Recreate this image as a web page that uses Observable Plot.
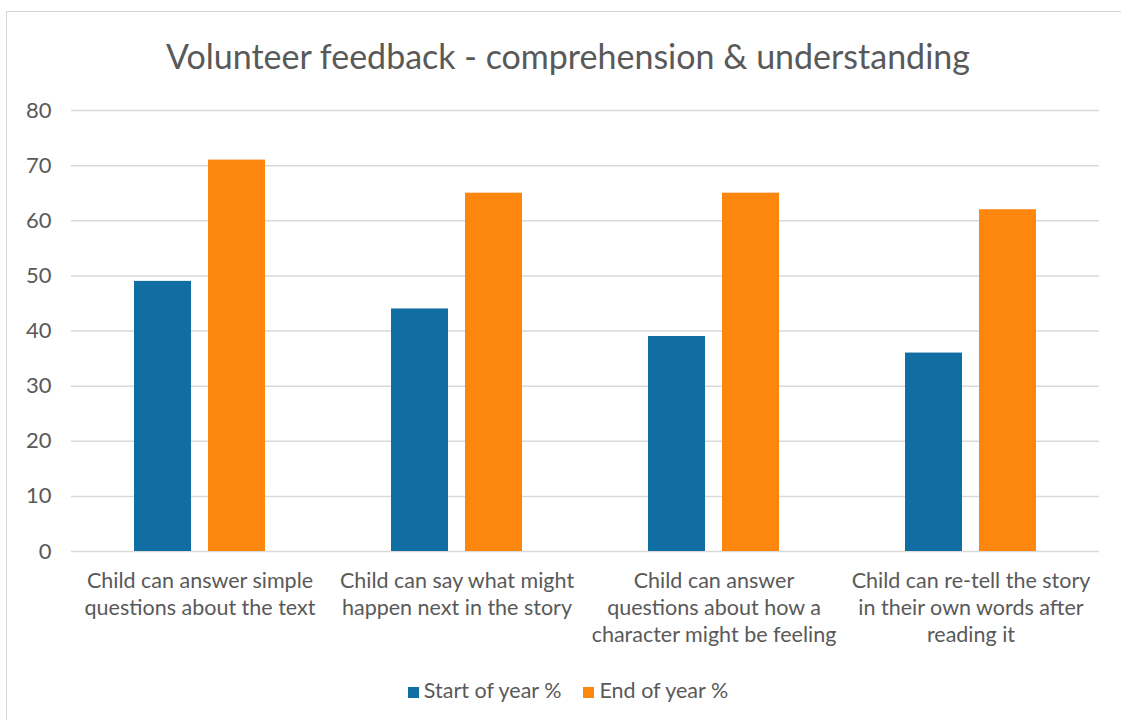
<!DOCTYPE html>
<html>
<head>
<meta charset="utf-8">
<script src="https://cdn.jsdelivr.net/npm/d3@7"></script>
<script src="https://cdn.jsdelivr.net/npm/@observablehq/plot@0.6"></script>
<style>
  html, body { margin: 0; padding: 0; background: #fff; overflow: hidden; width: 1121px; height: 720px; }
  #box { position: absolute; left: 6px; top: 11px; width: 1140px; height: 740px; border: 1px solid #d6d6d6; box-sizing: border-box; }
  #title { position: absolute; left: 0; width: 1136px; top: 35px; text-align: center; font-family: Lato, sans-serif; font-size: 34px; color: #595959; line-height: 42px; white-space: nowrap; }
  #chart { position: absolute; left: 8px; top: 90px; }
  #legend { position: absolute; left: 0; width: 1136px; top: 676px; text-align: center; font-family: Lato, sans-serif; font-size: 21.5px; color: #595959; white-space: nowrap; line-height: 28px; }
  .item { display: inline-block; margin: 0 11px; }
  .sw { display: inline-block; width: 11px; height: 11px; margin-right: 5px; vertical-align: 0px; }
</style>
</head>
<body>
<div id="box"></div>
<div id="title">Volunteer feedback - comprehension &amp; understanding</div>
<div id="chart"></div>
<div id="legend"></div>
<script>
const categories = [
  "Child can answer simple questions about the text",
  "Child can say what might happen next in the story",
  "Child can answer questions about how a character might be feeling",
  "Child can re-tell the story in their own words after reading it"
];
const categoryLabels = [
  "Child can answer simple\nquestions about the text",
  "Child can say what might\nhappen next in the story",
  "Child can answer\nquestions about how a\ncharacter might be feeling",
  "Child can re-tell the story\nin their own words after\nreading it"
];
const seriesNames = ["Start of year %", "End of year %"];
const startOfYear = [49, 44, 39, 36];
const endOfYear = [71, 65, 65, 62];
const yTicks = [0, 10, 20, 30, 40, 50, 60, 70, 80];
const colors = ["#116ea2", "#fd860f"];

const data = categories.flatMap((c, i) => [
  {cat: c, series: seriesNames[0], value: startOfYear[i]},
  {cat: c, series: seriesNames[1], value: endOfYear[i]}
]);
const labelOf = new Map(categories.map((c, i) => [c, categoryLabels[i]]));

const chart = Plot.plot({
  width: 1113,
  height: 561,
  marginLeft: 62,
  marginRight: 21,
  marginTop: 20,
  marginBottom: 100,
  style: {fontFamily: "Lato, sans-serif", color: "#595959", background: "transparent", overflow: "visible"},
  fx: {domain: categories, padding: 0, label: null},
  x: {domain: seriesNames, paddingInner: 0.23, paddingOuter: 0.851, axis: null},
  y: {domain: [0, 80], label: null},
  color: {domain: seriesNames, range: colors},
  marks: [
    Plot.gridY(yTicks, {stroke: "#d9d9d9", strokeOpacity: 1, strokeWidth: 1.5}),
    Plot.barY(data, {fx: "cat", x: "series", y: "value", fill: "series"}),
    Plot.axisY(yTicks, {tickSize: 0, tickPadding: 20, fontSize: 22, label: null, fill: "#595959"}),
    Plot.axisFx({anchor: "bottom", tickSize: 0, tickPadding: 17, fontSize: 21.5, lineHeight: 1.26, label: null, tickFormat: d => labelOf.get(d), fill: "#595959"})
  ]
});
document.getElementById("chart").appendChild(chart);

const legend = document.getElementById("legend");
seriesNames.forEach((s, i) => {
  const item = document.createElement("span");
  item.className = "item";
  const sw = document.createElement("span");
  sw.className = "sw";
  sw.style.background = colors[i];
  item.appendChild(sw);
  item.appendChild(document.createTextNode(s));
  legend.appendChild(item);
});
</script>
</body>
</html>
